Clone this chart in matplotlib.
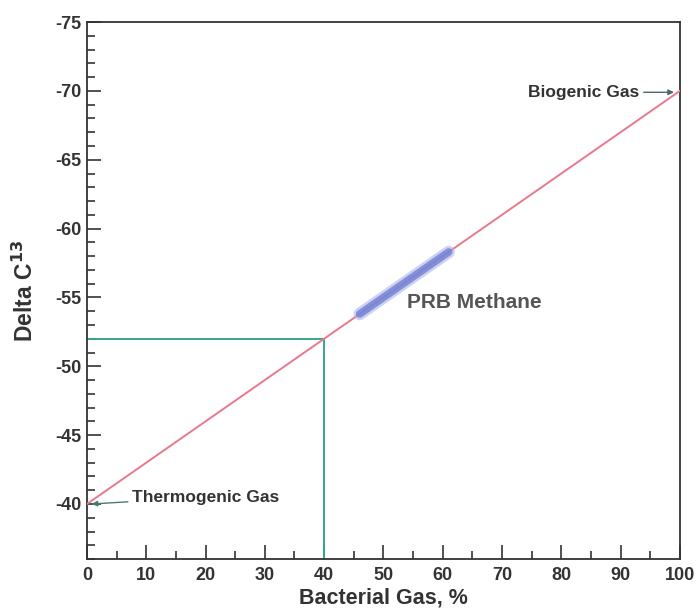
import matplotlib.pyplot as plt
from matplotlib.ticker import MultipleLocator

plt.rcParams['font.family'] = ['Liberation Sans', 'DejaVu Sans']
plt.rcParams['axes.unicode_minus'] = False

# mixing line between thermogenic and biogenic end members
bacterial_pct = [0, 100]
delta_c13 = [-40, -70]

# PRB methane range along the mixing line
prb_pct = [46, 61]
prb_delta = [-40 - 0.3 * p for p in prb_pct]

# example reading: 40 % bacterial gas
ref_pct = 40
ref_delta = -52

fig = plt.figure(figsize=(6.98, 6.13), dpi=100)
ax = fig.add_axes([0.1246, 0.088, 0.8494, 0.876])

ax.plot(bacterial_pct, delta_c13, color='#e8788e', lw=1.4, zorder=3)
# soft band for the PRB range, a wide faint stroke under a narrower one
ax.plot(prb_pct, prb_delta, color='#a4aeea', lw=9, solid_capstyle='round', alpha=0.55, zorder=4)
ax.plot(prb_pct, prb_delta, color='#7080d4', lw=5.5, solid_capstyle='round', alpha=0.8, zorder=4)
ax.plot([0, ref_pct], [ref_delta, ref_delta], color='#3aa58a', lw=1.4, zorder=2)
ax.plot([ref_pct, ref_pct], [ref_delta, -36], color='#3aa58a', lw=1.4, zorder=2)

ax.text(54, -54.6, 'PRB Methane', fontsize=15, fontweight='bold', color='#555555', va='center')
ax.annotate('Thermogenic Gas', xy=(0.8, -40), xytext=(7.6, -40.5), fontsize=12.5, fontweight='bold',
            color='#333333', va='center',
            arrowprops=dict(arrowstyle='-|>', color='#4a7a6a', lw=1, shrinkA=1, shrinkB=0, mutation_scale=8))
ax.annotate('Biogenic Gas', xy=(99, -69.9), xytext=(93.2, -69.9), fontsize=12.5, fontweight='bold',
            color='#333333', va='center', ha='right',
            arrowprops=dict(arrowstyle='-|>', color='#4a6a6a', lw=1, shrinkA=1, shrinkB=0, mutation_scale=8))

ax.set_xlim(0, 100)
ax.set_ylim(-36, -75)
ax.xaxis.set_major_locator(MultipleLocator(10))
ax.xaxis.set_minor_locator(MultipleLocator(5))
ax.yaxis.set_minor_locator(MultipleLocator(1))
ax.set_yticks([-40, -45, -50, -55, -60, -65, -70, -75])

ax.tick_params(which='both', direction='in', color='#333333', width=1.2, labelsize=13)
ax.tick_params(axis='x', pad=6)
ax.tick_params(axis='y', pad=4)
ax.tick_params(which='major', length=10)
ax.tick_params(which='minor', length=6)
for lab in ax.get_xticklabels() + ax.get_yticklabels():
    lab.set_fontweight('bold')
    lab.set_color('#333333')
for s in ax.spines.values():
    s.set_linewidth(1.3)
    s.set_color('#333333')

ax.set_xlabel('Bacterial Gas, %', fontsize=15.5, fontweight='bold', color='#333333', labelpad=2)
ax.set_ylabel(r'Delta C$^{\mathbf{13}}$', fontsize=16.5, fontweight='bold', color='#333333')
ax.yaxis.set_label_coords(-0.083, 0.5)

plt.savefig('out.png', dpi=100)
